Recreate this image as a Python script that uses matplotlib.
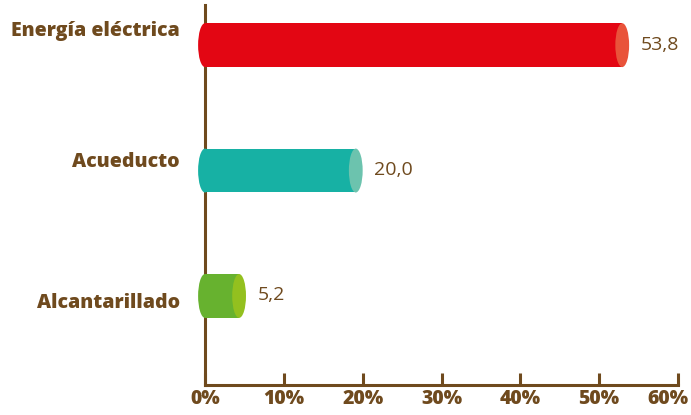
import matplotlib.pyplot as plt
import matplotlib.transforms as mtransforms
from matplotlib.patches import Rectangle, Ellipse

# data
categorias = ['Alcantarillado', 'Acueducto', 'Energía eléctrica']
valores = [5.2, 20.0, 53.8]
colores = ['#67B22F', '#17B1A4', '#E30613']
tapas = ['#93C01F', '#6CC3AE', '#E9533A']
etiquetas = ['5,2', '20,0', '53,8']
ticks = [0, 10, 20, 30, 40, 50, 60]

# vertical nudge of the category names (baseline vs bar center)
desfase = [-0.096, 0.032, 0.072]

brown = '#6F4A1E'
plt.rcParams['font.family'] = ['Open Sans', 'DejaVu Sans']

fig = plt.figure(figsize=(6.91, 4.15), dpi=100)
ax = fig.add_axes([205/691, 30/415, 473/691, 380/415])
ax.set_xlim(0, 60)
ax.set_ylim(-0.71, 2.32)

h = 0.35      # bar height (data units)
cw = 1.75     # cap width in x units

for i, v in enumerate(valores):
    c = colores[i]
    xe = v - cw / 2   # center of right cap
    ax.add_patch(Rectangle((0, i - h/2), xe, h, facecolor=c, edgecolor='none', zorder=3))
    # left rounded end
    ax.add_patch(Ellipse((0, i), cw, h, facecolor=c, edgecolor='none', zorder=3, clip_on=False))
    # right cap
    ax.add_patch(Ellipse((xe, i), cw, h, facecolor=tapas[i], edgecolor='none', zorder=4))
    ax.text(v + 1.5, i - 0.035, etiquetas[i], color=brown, fontsize=14,
            va='baseline', ha='left')
    ax.text(-3.2, i + desfase[i], categorias[i], color=brown, fontsize=14,
            fontweight='heavy', va='baseline', ha='right')

for s in ['top', 'right']:
    ax.spines[s].set_visible(False)
for s in ['left', 'bottom']:
    ax.spines[s].set_color(brown)
    ax.spines[s].set_linewidth(2.2)
ax.spines['left'].set_zorder(2)

ax.set_yticks([])
ax.set_xticks(ticks)
ax.set_xticklabels([f'{t}%' for t in ticks])
ax.tick_params(axis='x', direction='in', length=9, width=2.2, color=brown,
               labelcolor=brown, labelsize=14, pad=3)
for lbl in ax.get_xticklabels():
    lbl.set_fontweight('heavy')
last = ax.get_xticklabels()[-1]
last.set_horizontalalignment('right')
last.set_transform(last.get_transform() + mtransforms.ScaledTranslation(11/100, 0, fig.dpi_scale_trans))

fig.savefig('out.png', dpi=100)
